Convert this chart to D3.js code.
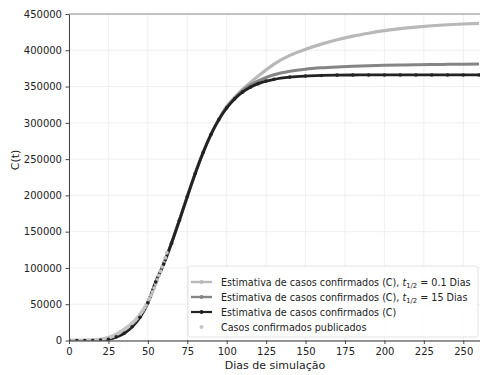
<!DOCTYPE html>
<html>
<head>
<meta charset="utf-8">
<script src="https://cdn.jsdelivr.net/npm/d3@7"></script>
<style>
  body { margin: 0; background: #fff; }
  svg { font-family: "DejaVu Sans", sans-serif; }
</style>
</head>
<body>
<div id="chart"></div>
<script>
// simulated curves, sampled every 5 days then every 10
var days = [0, 5, 10, 15, 20, 25, 30, 35, 40, 45, 50, 55, 60, 65, 70, 75, 80, 85, 90, 95,
  100, 105, 110, 115, 120, 125, 130, 140, 150, 160, 170, 180, 190, 200, 210, 220, 230, 240, 250, 260];

// C(t)
var casesC = [0, 0, 0, 100, 500, 1800, 5000, 10000, 19000, 32000, 52000, 80700, 105400, 134200, 165700, 198300, 230000, 258900, 283900, 304400,
  320600, 333000, 342300, 349100, 354000, 357500, 360000, 363000, 364500, 365300, 365700, 365900, 366000, 366000, 366000, 366000, 366000, 366000, 366000, 366000];

// C(t), t1/2 = 15 dias
var casesHalf15 = [0, 0, 0, 100, 500, 1800, 5000, 10000, 19000, 32000, 52000, 80700, 105400, 134200, 165700, 198300, 230000, 258900, 283900, 304600,
  321200, 334000, 344500, 352000, 357800, 362500, 366200, 371000, 374000, 375800, 377000, 377900, 378600, 379200, 379700, 380100, 380400, 380600, 380800, 381000];

// C(t), t1/2 = 0.1 dias
var casesHalf01 = [0, 0, 0, 100, 500, 1800, 5000, 10000, 19000, 32000, 52000, 80700, 105400, 134200, 165700, 198300, 230000, 258900, 284000, 305000,
  323000, 335000, 346000, 355500, 364500, 373000, 381000, 393000, 401500, 408500, 414500, 419500, 423500, 427000, 429800, 432000, 433800, 435200, 436200, 437000];

// published confirmed cases, days 0..62
var published = [0, 0, 0, 0, 0, 10, 20, 30, 50, 80, 100, 150, 200, 300, 400,
  500, 650, 800, 1000, 1200, 1500, 1800, 2200, 2700, 3200,
  3900, 4600, 5400, 6300, 7300, 8400, 9600, 10900, 12300, 13800,
  15200, 16700, 18300, 20000, 21800, 23700, 25800, 28000, 30400, 33000,
  35800, 38800, 42000, 45500, 49300, 53300, 57600, 62200, 67000, 72500,
  78000, 83500, 89500, 95500, 101500, 107500, 114000, 121000];

var xTicks = [0, 25, 50, 75, 100, 125, 150, 175, 200, 225, 250];
var yTicks = [0, 50000, 100000, 150000, 200000, 250000, 300000, 350000, 400000, 450000];

var width = 480, height = 375;
var plotLeft = 69, plotRight = 480, plotTop = 14, plotBottom = 340.5;

var svg = d3.select("#chart").append("svg")
  .attr("width", width)
  .attr("height", height);

var x = d3.scaleLinear().domain([0, 260.6]).range([plotLeft, plotRight]);
var y = d3.scaleLinear().domain([0, 450000]).range([plotBottom, plotTop]);

svg.append("clipPath").attr("id", "plot")
  .append("rect")
  .attr("x", plotLeft).attr("y", plotTop)
  .attr("width", plotRight - plotLeft).attr("height", plotBottom - plotTop);

// grid
var grid = svg.append("g");
grid.selectAll(".gx").data(xTicks).enter().append("line")
  .attr("x1", d => x(d)).attr("x2", d => x(d))
  .attr("y1", plotTop).attr("y2", plotBottom)
  .attr("stroke", "#ebebeb").attr("stroke-width", 0.8);
grid.selectAll(".gy").data(yTicks).enter().append("line")
  .attr("x1", plotLeft).attr("x2", plotRight)
  .attr("y1", d => y(d)).attr("y2", d => y(d))
  .attr("stroke", "#ebebeb").attr("stroke-width", 0.8);

// series
var plot = svg.append("g").attr("clip-path", "url(#plot)");

function toPoints(vals) {
  return days.map((d, i) => [d, vals[i]]);
}

var line = d3.line()
  .x(d => x(d[0]))
  .y(d => y(d[1]))
  .curve(d3.curveMonotoneX);

var series = [
  { vals: casesHalf01, color: "#b8b8b8", w: 3.2 },
  { vals: casesHalf15, color: "#858585", w: 3 },
  { vals: casesC, color: "#222222", w: 2.8 }
];

series.forEach(function(s) {
  plot.append("path")
    .datum(toPoints(s.vals))
    .attr("fill", "none")
    .attr("stroke", s.color)
    .attr("stroke-width", s.w)
    .attr("d", line);
});

plot.selectAll(".pub").data(published).enter().append("circle")
  .attr("cx", (d, i) => x(i))
  .attr("cy", d => y(d))
  .attr("r", 2)
  .attr("fill", "#c4c4c4");

// markers on the C(t) line
plot.selectAll(".mk").data(toPoints(casesC)).enter().append("circle")
  .attr("cx", d => x(d[0]))
  .attr("cy", d => y(d[1]))
  .attr("r", 1.8)
  .attr("fill", "#222");

// axes
var xAxis = svg.append("g")
  .attr("transform", `translate(0, ${plotBottom})`)
  .call(d3.axisBottom(x).tickValues(xTicks).tickSize(3.5).tickPadding(3.5).tickSizeOuter(0));
var yAxis = svg.append("g")
  .attr("transform", `translate(${plotLeft}, 0)`)
  .call(d3.axisLeft(y).tickValues(yTicks).tickFormat(d3.format("d")).tickSize(3.5).tickPadding(3.5).tickSizeOuter(0));

[xAxis, yAxis].forEach(function(a) {
  a.selectAll("text").attr("font-size", "10px").attr("fill", "#222").attr("font-family", "DejaVu Sans");
  a.selectAll("line").attr("stroke", "#333").attr("stroke-width", 0.9);
  a.select(".domain").attr("stroke", "#444").attr("stroke-width", 1);
});
xAxis.select(".domain").attr("stroke", "#333");

// top spine
svg.append("line")
  .attr("x1", plotLeft).attr("x2", plotRight)
  .attr("y1", plotTop).attr("y2", plotTop)
  .attr("stroke", "#8c8c8c").attr("stroke-width", 1.2);

// axis labels
svg.append("text")
  .attr("x", 275).attr("y", 369)
  .attr("text-anchor", "middle")
  .attr("font-size", "11px")
  .attr("fill", "#222")
  .text("Dias de simulação");

svg.append("text")
  .attr("transform", "translate(19, 160) rotate(-90)")
  .attr("text-anchor", "middle")
  .attr("font-size", "11px")
  .attr("fill", "#222")
  .text("C(t)");

// legend
var legend = svg.append("g");
legend.append("rect")
  .attr("x", 188).attr("y", 266)
  .attr("width", 290).attr("height", 71)
  .attr("rx", 2.5)
  .attr("fill", "#fff").attr("fill-opacity", 0.85)
  .attr("stroke", "#dcdcdc").attr("stroke-width", 0.8);

var legendItems = [
  { label: "Estimativa de casos confirmados (C), ", half: "0.1", color: "#b8b8b8", w: 2.4, line: true },
  { label: "Estimativa de casos confirmados (C), ", half: "15", color: "#858585", w: 2.4, line: true },
  { label: "Estimativa de casos confirmados (C)", half: null, color: "#222222", w: 2.2, line: true },
  { label: "Casos confirmados publicados", half: null, color: "#c4c4c4", w: 0, line: false }
];

legendItems.forEach(function(it, i) {
  var cy = 282 + i * 15;
  if (it.line) {
    legend.append("line")
      .attr("x1", 191).attr("x2", 212)
      .attr("y1", cy).attr("y2", cy)
      .attr("stroke", it.color).attr("stroke-width", it.w);
  }
  legend.append("circle")
    .attr("cx", 201.5).attr("cy", cy)
    .attr("r", 2)
    .attr("fill", it.color);

  var t = legend.append("text")
    .attr("x", 221).attr("y", cy + 3.5)
    .attr("font-size", "9.6px")
    .attr("fill", "#222");
  t.append("tspan").text(it.label);
  if (it.half) {
    t.append("tspan").attr("font-style", "italic").text("t");
    t.append("tspan").attr("font-size", "6.8px").attr("dy", 2).text("1/2");
    t.append("tspan").attr("dy", -2).text(" = " + it.half + " Dias");
  }
});
</script>
</body>
</html>
